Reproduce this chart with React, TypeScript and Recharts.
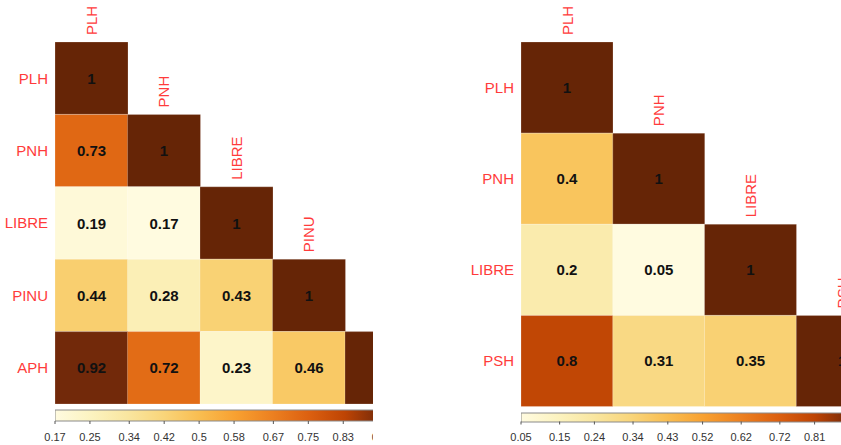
import { Bar, BarChart, Cell, LabelList, XAxis, YAxis } from "recharts";

// left matrix (lower triangle, row by row)
const leftVars = ["PLH", "PNH", "LIBRE", "PINU", "APH"];
const leftCorr = [
  [1],
  [0.73, 1],
  [0.19, 0.17, 1],
  [0.44, 0.28, 0.43, 1],
  [0.92, 0.72, 0.23, 0.46, 1],
];
const leftTicks = ["0.17", "0.25", "0.34", "0.42", "0.5", "0.58", "0.67", "0.75", "0.83", "0.92", "1"];

// right matrix
const rightVars = ["PLH", "PNH", "LIBRE", "PSH"];
const rightCorr = [
  [1],
  [0.4, 1],
  [0.2, 0.05, 1],
  [0.8, 0.31, 0.35, 1],
];
const rightTicks = ["0.05", "0.15", "0.24", "0.34", "0.43", "0.52", "0.62", "0.72", "0.81", "0.91", "1"];

const palette: [number, string][] = [
  [0, "#FFFBE0"],
  [0.1, "#FCF3C0"],
  [0.2, "#F9E6A0"],
  [0.3, "#F9D57A"],
  [0.4, "#F9BD50"],
  [0.5, "#F8A030"],
  [0.6, "#EC8020"],
  [0.7, "#DC6010"],
  [0.8, "#BE4404"],
  [0.9, "#72290A"],
  [1, "#662506"],
];

const FONT = "'Liberation Sans', Arial, sans-serif";
const LABEL_RED = "#FF3B3B";

function hexToRgb(h: string) {
  return [1, 3, 5].map((k) => parseInt(h.slice(k, k + 2), 16));
}

function colorAt(t: number) {
  const c = Math.max(0, Math.min(1, t));
  for (let k = 1; k < palette.length; k++) {
    const [t1, c1] = palette[k];
    if (c <= t1) {
      const [t0, c0] = palette[k - 1];
      const f = (c - t0) / (t1 - t0);
      const a = hexToRgb(c0);
      const b = hexToRgb(c1);
      const m = a.map((v, i) => Math.round(v + (b[i] - v) * f));
      return `rgb(${m[0]},${m[1]},${m[2]})`;
    }
  }
  return palette[palette.length - 1][1];
}

function Corrplot({
  id,
  vars,
  corr,
  ticks,
  left,
  width,
  axisW,
  plotW,
  plotH,
}: {
  id: string;
  vars: string[];
  corr: number[][];
  ticks: string[];
  left: number;
  width: number;
  axisW: number;
  plotW: number;
  plotH: number;
}) {
  const n = vars.length;
  const flat = corr.flat();
  const lo = Math.min(...flat);
  const hi = Math.max(...flat);
  const norm = (v: number) => (v - lo) / (hi - lo);

  const data = vars.map((name) => {
    const row: Record<string, string | number> = { name };
    vars.forEach((_, i) => (row[`r${i}`] = 1));
    return row;
  });
  const chartW = axisW + plotW + 30;
  const chartH = 42 + plotH;

  return (
    <div style={{ position: "absolute", left, top: 0, width, height: 445, overflow: "hidden" }}>
      <BarChart
        width={chartW}
        height={chartH}
        data={data}
        margin={{ top: 42, right: 30, bottom: 0, left: 0 }}
        barCategoryGap={0}
        barGap={0}
      >
        <XAxis dataKey="name" type="category" hide />
        <YAxis
          type="number"
          domain={[0, n]}
          reversed
          width={axisW}
          ticks={vars.map((_, i) => i + 0.5)}
          tickFormatter={(v: number) => vars[Math.floor(v)]}
          axisLine={false}
          tickLine={false}
          tickSize={5}
          tickMargin={2}
          tick={{ fill: LABEL_RED, fontSize: 15, fontFamily: FONT }}
        />
        {vars.map((_, i) => (
          <Bar key={i} dataKey={`r${i}`} stackId="m" isAnimationActive={false}>
            {vars.map((__, j) => (
              <Cell
                key={j}
                fill={i >= j ? colorAt(norm(corr[i][j])) : "transparent"}
                stroke={i >= j ? "rgba(255,255,255,0.35)" : "none"}
                strokeWidth={0.6}
              />
            ))}
            <LabelList
              dataKey={`r${i}`}
              content={(p: any) => {
                const j = p.index;
                if (j > i) return null;
                const cx = p.x + p.width / 2;
                const cy = p.y + p.height / 2;
                const top = Math.min(p.y, p.y + p.height) - 7;
                return (
                  <g>
                    <text
                      x={cx}
                      y={cy}
                      textAnchor="middle"
                      dominantBaseline="central"
                      fontSize={15}
                      fontWeight={700}
                      fontFamily={FONT}
                      fill="#111"
                    >
                      {String(corr[i][j])}
                    </text>
                    {i === j && (
                      <text
                        x={cx}
                        y={top}
                        transform={`rotate(-90 ${cx} ${top})`}
                        textAnchor="start"
                        dominantBaseline="central"
                        fontSize={15}
                        fontFamily={FONT}
                        fill={LABEL_RED}
                      >
                        {vars[j]}
                      </text>
                    )}
                  </g>
                );
              }}
            />
          </Bar>
        ))}
      </BarChart>
      <div style={{ position: "absolute", left: 0, top: chartH }}>
        <BarChart
          width={chartW}
          height={445 - chartH}
          layout="vertical"
          data={[{ name: "scale", range: [lo, hi] }]}
          margin={{ top: 6, right: 30, bottom: 0, left: axisW }}
          barCategoryGap={0}
        >
          <defs>
            <linearGradient id={`grad-${id}`} x1="0" y1="0" x2="1" y2="0">
              {palette.map(([t, c]) => (
                <stop key={t} offset={`${t * 100}%`} stopColor={c} />
              ))}
            </linearGradient>
          </defs>
          <XAxis
            type="number"
            domain={[lo, hi]}
            allowDataOverflow
            ticks={ticks.map(Number)}
            tickFormatter={(_v: number, k: number) => ticks[k]}
            interval={0}
            height={24}
            axisLine={false}
            tickSize={3}
            tickMargin={9}
            stroke="#555"
            tick={{ fill: "#333", fontSize: 11, fontFamily: FONT }}
          />
          <YAxis type="category" dataKey="name" hide width={0} />
          <Bar dataKey="range" fill={`url(#grad-${id})`} stroke="#8a8a8a" strokeWidth={1} isAnimationActive={false} />
        </BarChart>
      </div>
    </div>
  );
}

export default function App() {
  return (
    <div style={{ position: "absolute", left: 0, top: 0, width: 841, height: 445, background: "#fff" }}>
      <Corrplot id="l" vars={leftVars} corr={leftCorr} ticks={leftTicks} left={0} width={373} axisW={55} plotW={362.5} plotH={362} />
      <Corrplot id="r" vars={rightVars} corr={rightCorr} ticks={rightTicks} left={420} width={421} axisW={101} plotW={367} plotH={364.5} />
    </div>
  );
}
